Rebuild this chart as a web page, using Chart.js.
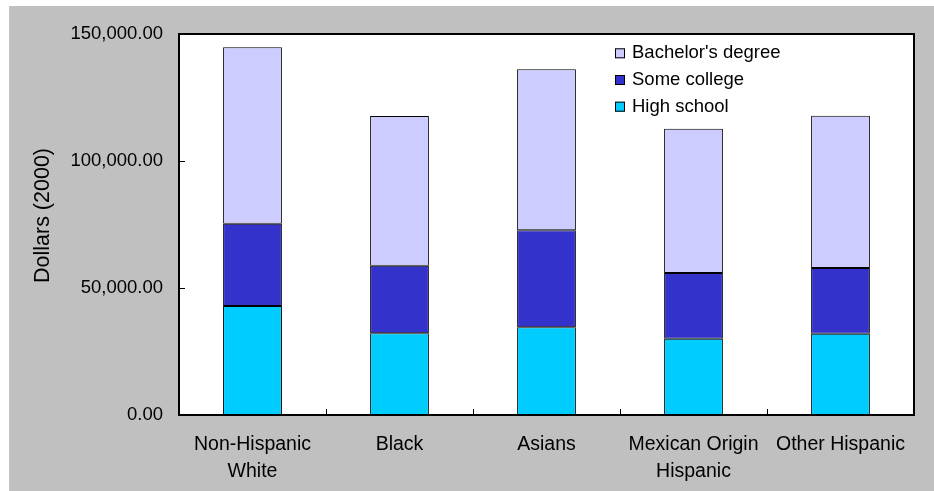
<!DOCTYPE html>
<html>
<head>
<meta charset="utf-8">
<script src="https://cdn.jsdelivr.net/npm/chart.js@4"></script>
<style>
  html, body { margin: 0; padding: 0; background: #ffffff; }
  #wrap { width: 934px; height: 491px; position: relative; }
  canvas { display: block; }
</style>
</head>
<body>
<div id="wrap"><canvas id="c" width="934" height="491"></canvas></div>
<script>
const categories = [["Non-Hispanic", "White"], "Black", "Asians", ["Mexican Origin", "Hispanic"], "Other Hispanic"];
const seriesNames = ["High school", "Some college", "Bachelor's degree"];
const highSchool = [42900, 32200, 34500, 30000, 32000];
const someCollege = [32400, 26600, 38200, 25900, 25900];
const bachelors = [69500, 58900, 63400, 56800, 59900];
const yTicks = [0, 50000, 100000, 150000];
const yTitle = "Dollars (2000)";

const colors = ["#00CCFF", "#3333CC", "#CCCCFF"];
const FONT = "Arial, 'Liberation Sans', sans-serif";

const bgPlugin = {
  id: 'bg',
  beforeDraw(chart) {
    const ctx = chart.ctx;
    ctx.save();
    ctx.fillStyle = '#ffffff';
    ctx.fillRect(0, 0, chart.width, chart.height);
    ctx.fillStyle = '#c0c0c0';
    ctx.fillRect(9, 6, chart.width - 9, chart.height - 6);
    const a = chart.chartArea;
    ctx.fillStyle = '#ffffff';
    ctx.fillRect(a.left, a.top, a.right - a.left, a.bottom - a.top);
    ctx.restore();
  },
  afterDraw(chart) {
    const ctx = chart.ctx;
    const a = chart.chartArea;
    const ys = chart.scales.y, xs = chart.scales.x;
    ctx.save();
    // inward ticks
    ctx.strokeStyle = '#000';
    ctx.lineWidth = 1;
    ctx.beginPath();
    ys.ticks.forEach(t => {
      const y = Math.round(ys.getPixelForValue(t.value)) + 0.5;
      ctx.moveTo(a.left, y); ctx.lineTo(a.left + 6, y);
    });
    for (let i = 1; i < categories.length; i++) {
      const x = Math.round((xs.getPixelForValue(i - 1) + xs.getPixelForValue(i)) / 2) + 0.5;
      ctx.moveTo(x, a.bottom); ctx.lineTo(x, a.bottom - 6);
    }
    ctx.stroke();
    // plot border
    ctx.lineWidth = 2;
    ctx.strokeRect(a.left, a.top, a.right - a.left, a.bottom - a.top);
    // y axis title
    ctx.save();
    ctx.translate(43, (a.top + a.bottom) / 2 - 9);
    ctx.rotate(-Math.PI / 2);
    ctx.font = "21.5px " + FONT;
    ctx.fillStyle = '#000';
    ctx.textAlign = 'center';
    ctx.textBaseline = 'middle';
    ctx.fillText(yTitle, 0, 0);
    ctx.restore();
    // legend (reversed order)
    const ds = chart.data.datasets.slice().reverse();
    ctx.font = "18.5px " + FONT;
    ctx.textBaseline = 'middle';
    ctx.textAlign = 'left';
    const bx = a.right - 299, by = a.top + 14.3;
    ds.forEach((d, i) => {
      const y = by + i * 26.7;
      ctx.fillStyle = d.backgroundColor;
      ctx.fillRect(bx, y, 10, 10);
      ctx.lineWidth = 1;
      ctx.strokeStyle = '#000';
      ctx.strokeRect(bx + 0.5, y + 0.5, 9, 9);
      ctx.fillStyle = '#000';
      ctx.fillText(d.label, bx + 17, y + 5);
    });
    ctx.restore();
  }
};

new Chart(document.getElementById('c'), {
  type: 'bar',
  data: {
    labels: categories,
    datasets: [
      { label: seriesNames[0], data: highSchool, backgroundColor: colors[0] },
      { label: seriesNames[1], data: someCollege, backgroundColor: colors[1] },
      { label: seriesNames[2], data: bachelors, backgroundColor: colors[2] }
    ].map(d => Object.assign(d, { borderColor: '#000', borderWidth: 1, borderSkipped: false, barPercentage: 0.4, categoryPercentage: 1 }))
  },
  options: {
    responsive: false,
    animation: false,
    devicePixelRatio: 1,
    layout: { padding: { top: 34, right: 20, bottom: 0, left: 0 } },
    plugins: { legend: { display: false }, tooltip: { enabled: false } },
    scales: {
      x: {
        stacked: true,
        grid: { display: false, drawTicks: false },
        border: { display: false },
        ticks: { color: '#000', font: { family: FONT, size: 19.5, lineHeight: 1.34 }, padding: 17, maxRotation: 0, autoSkip: false },
        afterFit(s) { s.height = 76; }
      },
      y: {
        stacked: true,
        min: 0, max: 150000,
        afterBuildTicks(s) { s.ticks = yTicks.map(v => ({ value: v })); },
        grid: { display: false, drawTicks: false },
        border: { display: false },
        ticks: {
          color: '#000', font: { family: FONT, size: 18.5 }, padding: 16,
          callback: v => Number(v).toLocaleString('en-US', { minimumFractionDigits: 2, maximumFractionDigits: 2 })
        },
        title: { display: false },
        afterFit(s) { s.width = 179; }
      }
    }
  },
  plugins: [bgPlugin]
});
</script>
</body>
</html>
